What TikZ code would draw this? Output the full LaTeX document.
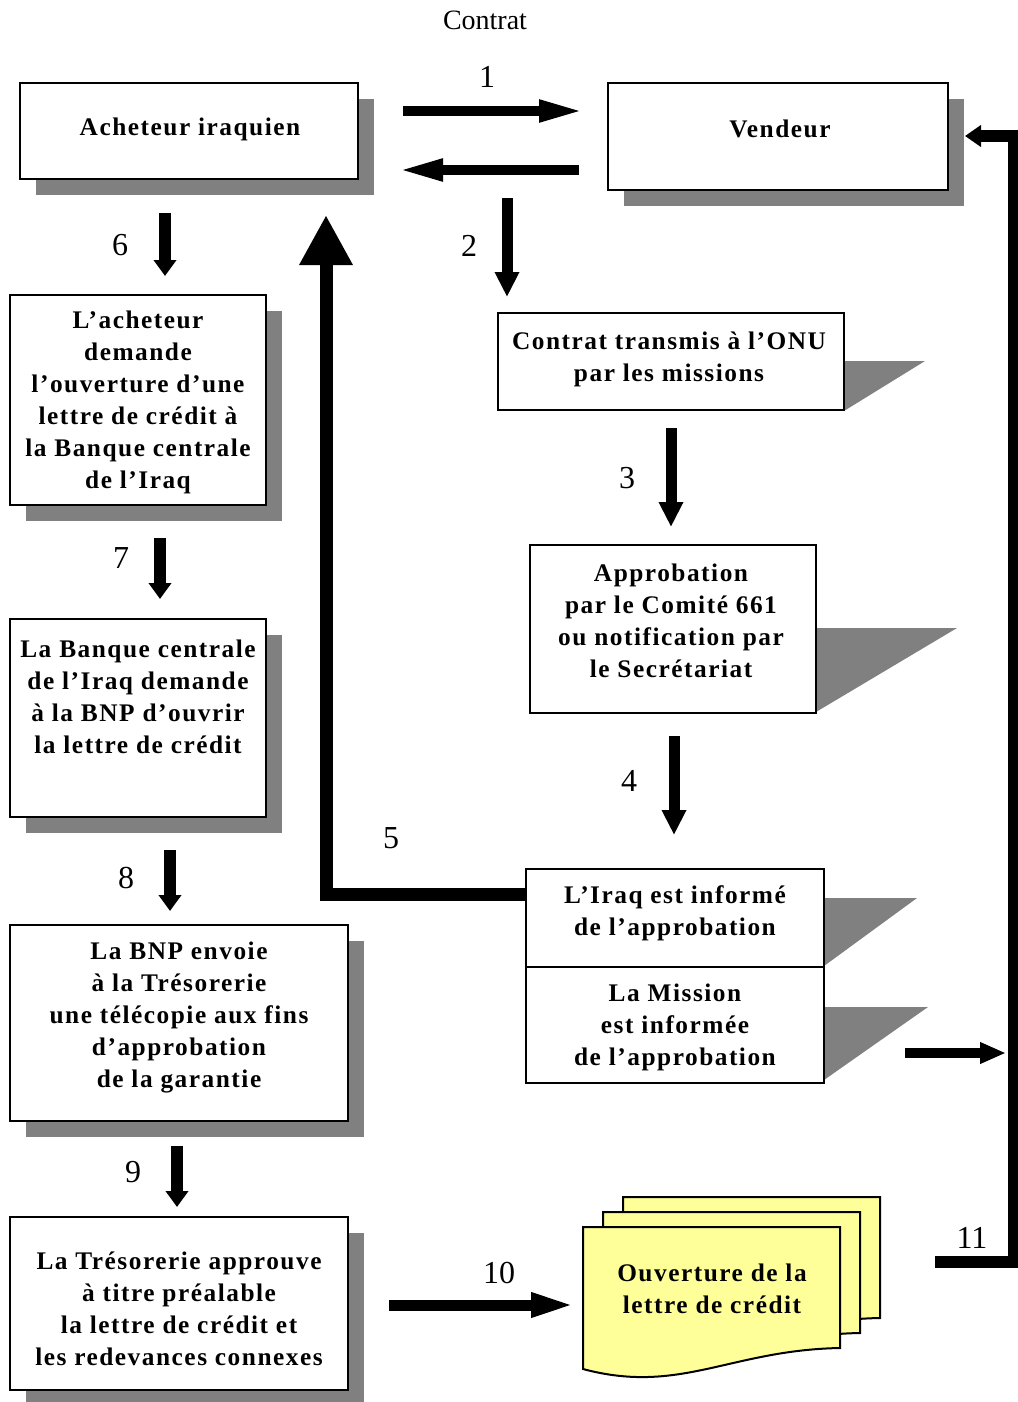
\documentclass[tikz,border=0pt]{standalone}
\usepackage{fontspec}
\setmainfont{Liberation Serif}
\newfontfamily\boxfont{Liberation Serif}[LetterSpace=6]
\usetikzlibrary{arrows.meta,fit,shadows}
\definecolor{shgray}{HTML}{808080}
\definecolor{docyellow}{HTML}{FFFF99}
\tikzset{
  box/.style={draw, line width=1.2pt, fill=white, inner sep=0pt},
  sbox/.style={box, drop shadow={shadow xshift=12pt, shadow yshift=-12pt, fill=shgray, opacity=1}},
  txt/.style={align=center, font=\boxfont\bfseries\fontsize{19}{24}\selectfont},
  num/.style={font=\fontsize{24}{26}\selectfont},
  page/.style={draw, line width=1.5pt, fill=docyellow},
  arrL/.style={line width=7.5pt, -{Triangle[length=34.5pt, width=15pt]}},
  arrM/.style={line width=8.25pt, -{Triangle[length=18.75pt, width=17.25pt]}},
  arrS/.style={line width=9pt, -{Triangle[length=12pt, width=16.5pt]}},
}
\begin{document}
\begin{tikzpicture}[x=0.75pt, y=-0.75pt]
                \useasboundingbox (0,0) rectangle (1017,1402);

                % boxes on the left, with their shadows
                \node[sbox, fit={(20,83) (358,179)}] (Ach) {};
                \node[sbox, fit={(608,83) (948,190)}] (Ven) {};
                \node[sbox, fit={(10,295) (266,505)}] (Dem) {};
                \node[sbox, fit={(10,619) (266,817)}] (Ban) {};
                \node[sbox, fit={(10,925) (348,1121)}] (Bnp) {};
                \node[sbox, fit={(10,1217) (348,1390)}] (Tre) {};

                % boxes on the right, with slanted shadows
                \fill[shgray] (844,361) -- (925,361) -- (844,411) -- cycle;
                \fill[shgray] (816,628) -- (957,628) -- (816,712) -- cycle;
                \fill[shgray] (824,898) -- (917,898) -- (824,966) -- cycle;
                \fill[shgray] (824,1007) -- (928,1007) -- (824,1080) -- cycle;
                \node[box, fit={(498,313) (844,410)}] (Onu) {};
                \node[box, fit={(530,545) (816,713)}] (App) {};
                \node[box, fit={(526,869) (824,967)}] (Irq) {};
                \node[box, fit={(526,967) (824,1083)}] (Mis) {};

                % stack of letters
                \foreach \d in {40,20,0}
                  \filldraw[page] (583+\d,1227-0.75*\d) -- (840+\d,1227-0.75*\d) -- (840+\d,1348-0.75*\d)
                    .. controls (730+\d,1350-0.75*\d) and (680+\d,1395-0.75*\d) .. (583+\d,1369-0.75*\d) -- cycle;

                % texts
                \node[txt] (AchT) at (190,129) {Acheteur iraquien};
                \node[txt] (VenT) at (780,129) {Vendeur};
                \node[txt] (DemT) at (138,402) {L’acheteur\\demande\\l’ouverture d’une\\lettre de crédit à\\la Banque centrale\\de l’Iraq};
                \node[txt] (BanT) at (138,697) {La Banque centrale\\de l’Iraq demande\\à la BNP d’ouvrir\\la lettre de crédit};
                \node[txt] (BnpT) at (179,1017) {La BNP envoie\\à la Trésorerie\\une télécopie aux fins\\d’approbation\\de la garantie};
                \node[txt] (TreT) at (179,1309) {La Trésorerie approuve\\à titre préalable\\la lettre de crédit et\\les redevances connexes};
                \node[txt] (OnuT) at (669,359) {Contrat transmis à l’ONU\\par les missions};
                \node[txt] (AppT) at (671,621) {Approbation\\par le Comité 661\\ou notification par\\le Secrétariat};
                \node[txt] (IrqT) at (675,913) {L’Iraq est informé\\de l’approbation};
                \node[txt] (MisT) at (675,1027) {La Mission\\est informée\\de l’approbation};
                \node[txt] (Ouv) at (712,1289) {Ouverture de la\\lettre de crédit};

                % numbers
                \node[font=\fontsize{21}{24}\selectfont] (Con) at (485,20) {Contrat};
                \node[num] (n1) at (487,77) {1};
                \node[num] (n2) at (469,246) {2};
                \node[num] (n3) at (627,478) {3};
                \node[num] (n4) at (629,781) {4};
                \node[num] (n5) at (391,838) {5};
                \node[num] (n6) at (120,245) {6};
                \node[num] (n7) at (121,558) {7};
                \node[num] (n8) at (126,878) {8};
                \node[num] (n9) at (133,1172) {9};
                \node[num] (n10) at (499,1273) {10};
                \node[num] (n11) at (972,1238) {11};

                % arrow ends
                \coordinate (a1) at (403,111);  \coordinate (b1) at (585,111);
                \coordinate (a1r) at (579,170); \coordinate (b1r) at (397,170);
                \coordinate (a2) at (507,198);  \coordinate (b2) at (507,297);
                \coordinate (a3) at (671,428);  \coordinate (b3) at (671,527);
                \coordinate (a4) at (674,736);  \coordinate (b4) at (674,835);
                \coordinate (a6) at (165,213);  \coordinate (b6) at (165,276);
                \coordinate (a7) at (160,538);  \coordinate (b7) at (160,599);
                \coordinate (a8) at (170,850);  \coordinate (b8) at (170,911);
                \coordinate (a9) at (177,1146); \coordinate (b9) at (177,1207);
                \coordinate (a10) at (389,1305); \coordinate (b10) at (576,1305);
                \coordinate (am) at (905,1053); \coordinate (bm) at (1006,1053);
                \coordinate (a11) at (935,1262); \coordinate (b11) at (965,136);

                \draw[arrL] (a1) -- (b1);
                \draw[arrL] (a1r) -- (b1r);
                \draw[arrM] (a2) -- (b2);
                \draw[arrM] (a3) -- (b3);
                \draw[arrM] (a4) -- (b4);
                \draw[arrS] (a6) -- (b6);
                \draw[arrS] (a7) -- (b7);
                \draw[arrS] (a8) -- (b8);
                \draw[arrS] (a9) -- (b9);
                \draw[line width=8.25pt, -{Triangle[length=33.75pt, width=16.5pt]}] (a10) -- (b10);
                \draw[line width=7.5pt, -{Triangle[length=19.5pt, width=15pt]}] (am) -- (bm);
                \draw[line width=9.75pt, line join=miter, -{Triangle[length=37.5pt, width=37.5pt]}]
                  (Irq.west |- 0,894) -- (326,894) -- (326,215);
                \draw[line width=9pt, line join=miter, -{Triangle[length=12pt, width=15.75pt]}]
                  (a11) -- (1014,1262) -- (1014,136) -- (b11);
            \end{tikzpicture}
\end{document}
